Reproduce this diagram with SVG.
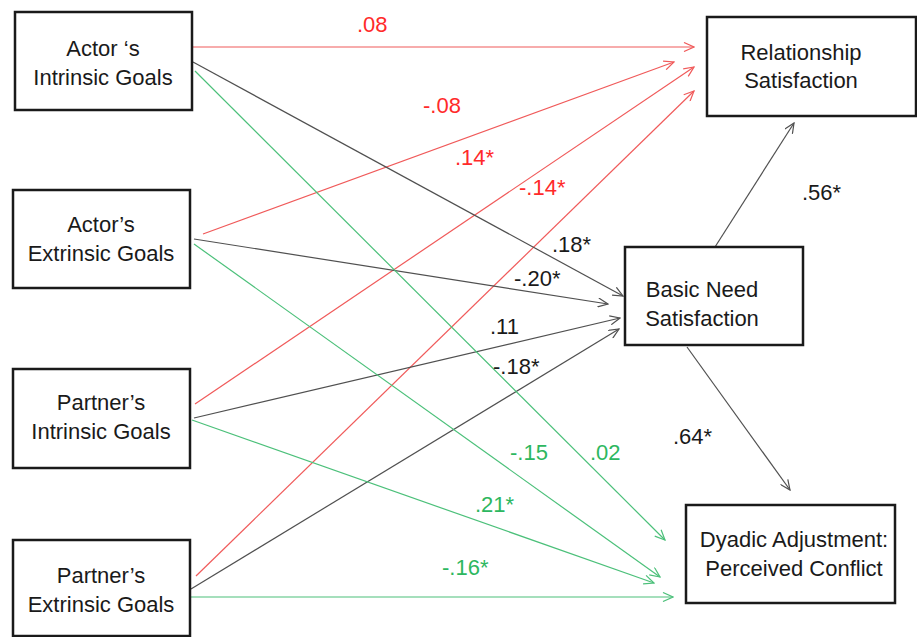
<svg xmlns="http://www.w3.org/2000/svg" width="917" height="637" viewBox="0 0 917 637">
<defs>
<style>
.box{fill:#fff;stroke:#1a1a1a;stroke-width:2.5}
.nt{font-family:"Liberation Sans",Arial,sans-serif;font-size:22px;fill:#1a1a1a;text-anchor:middle}
.lb{font-family:"Liberation Sans",Arial,sans-serif;font-size:22px}
.r{fill:#ff2a2a}.g{fill:#2db760}.k{fill:#1a1a1a}
.cr{stroke:#f05a5a;stroke-width:1.2;fill:none;marker-end:url(#ar)}
.cg{stroke:#4cc07a;stroke-width:1.2;fill:none;marker-end:url(#ag)}
.ck{stroke:#505050;stroke-width:1.2;fill:none;marker-end:url(#ak)}
</style>
<marker id="ar" viewBox="0 0 12 10" refX="11" refY="5" markerWidth="12" markerHeight="10" markerUnits="userSpaceOnUse" orient="auto"><path d="M1,0.5 L11,5 L1,9.5" fill="none" stroke="#f05a5a" stroke-width="1.2"/></marker>
<marker id="ag" viewBox="0 0 12 10" refX="11" refY="5" markerWidth="12" markerHeight="10" markerUnits="userSpaceOnUse" orient="auto"><path d="M1,0.5 L11,5 L1,9.5" fill="none" stroke="#4cc07a" stroke-width="1.2"/></marker>
<marker id="ak" viewBox="0 0 12 10" refX="11" refY="5" markerWidth="12" markerHeight="10" markerUnits="userSpaceOnUse" orient="auto"><path d="M1,0.5 L11,5 L1,9.5" fill="none" stroke="#505050" stroke-width="1.2"/></marker>
</defs>
<rect width="917" height="637" fill="#fff"/>
<g id="connectors">
<line class="cr" x1="190" y1="47" x2="694" y2="47"/>
<line class="cr" x1="203" y1="234" x2="674" y2="62"/>
<line class="cr" x1="195" y1="404" x2="694" y2="67"/>
<line class="cr" x1="196" y1="576" x2="694" y2="91"/>
<line class="ck" x1="193" y1="62" x2="623" y2="296"/>
<line class="ck" x1="194" y1="239" x2="608" y2="304"/>
<line class="ck" x1="194" y1="418" x2="620" y2="318"/>
<line class="ck" x1="191" y1="589" x2="619" y2="329"/>
<line class="ck" x1="715" y1="247" x2="794" y2="123"/>
<line class="ck" x1="687" y1="347" x2="790" y2="490"/>
<line class="cg" x1="195" y1="71" x2="665" y2="540"/>
<line class="cg" x1="194" y1="244" x2="660" y2="577"/>
<line class="cg" x1="192" y1="420" x2="654" y2="583"/>
<line class="cg" x1="190" y1="597" x2="673" y2="597"/>
</g>
<g id="labels">
<text class="lb r" x="357" y="32">.08</text>
<text class="lb r" x="423" y="113">-.08</text>
<text class="lb r" x="455" y="165">.14*</text>
<text class="lb r" x="519" y="195">-.14*</text>
<text class="lb k" x="552" y="252">.18*</text>
<text class="lb k" x="514" y="286">-.20*</text>
<text class="lb k" x="490" y="334">.11</text>
<text class="lb k" x="493" y="374">-.18*</text>
<text class="lb k" x="802" y="200">.56*</text>
<text class="lb k" x="673" y="444">.64*</text>
<text class="lb g" x="510" y="460">-.15</text>
<text class="lb g" x="590" y="460">.02</text>
<text class="lb g" x="475" y="512">.21*</text>
<text class="lb g" x="442" y="575">-.16*</text>
</g>
<g id="actor-intrinsic">
<rect class="box" x="15" y="12" width="177" height="98"/>
<text class="nt" x="103" y="56">Actor ‘s</text>
<text class="nt" x="103" y="85">Intrinsic Goals</text>
</g>
<g id="actor-extrinsic">
<rect class="box" x="13" y="190" width="177" height="98"/>
<text class="nt" x="101" y="232">Actor’s</text>
<text class="nt" x="101" y="261">Extrinsic Goals</text>
</g>
<g id="partner-intrinsic">
<rect class="box" x="13" y="369" width="177" height="99"/>
<text class="nt" x="101" y="410">Partner’s</text>
<text class="nt" x="101" y="439">Intrinsic Goals</text>
</g>
<g id="partner-extrinsic">
<rect class="box" x="13" y="540" width="177" height="96"/>
<text class="nt" x="101" y="583">Partner’s</text>
<text class="nt" x="101" y="612">Extrinsic Goals</text>
</g>
<g id="relationship-satisfaction">
<rect class="box" x="707" y="17" width="209" height="99"/>
<text class="nt" x="801" y="60">Relationship</text>
<text class="nt" x="801" y="88">Satisfaction</text>
</g>
<g id="basic-need">
<rect class="box" x="625" y="247" width="178" height="98"/>
<text class="nt" x="702" y="297">Basic Need</text>
<text class="nt" x="702" y="326">Satisfaction</text>
</g>
<g id="dyadic-adjustment">
<rect class="box" x="686" y="505" width="209" height="98"/>
<text class="nt" x="794" y="547">Dyadic Adjustment:</text>
<text class="nt" x="794" y="576">Perceived Conflict</text>
</g>
</svg>
